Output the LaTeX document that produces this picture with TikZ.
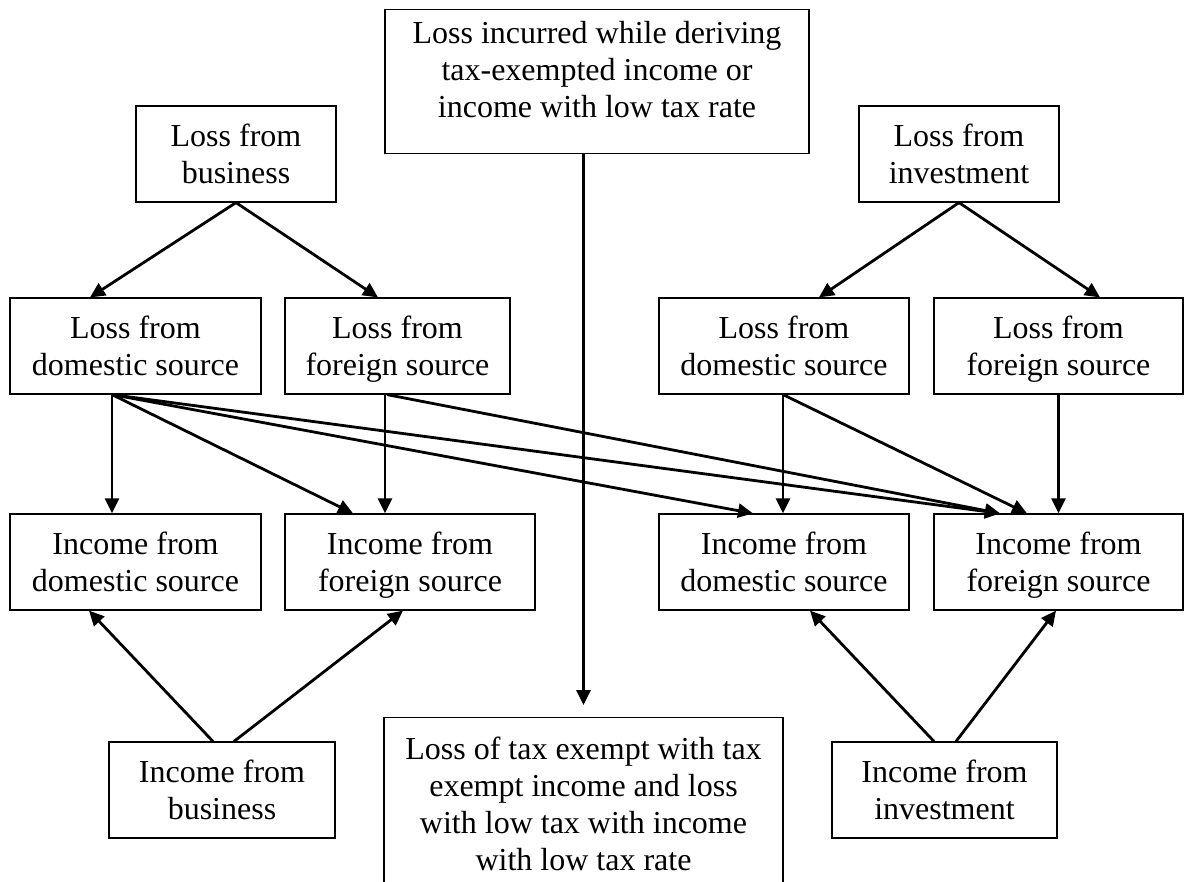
\documentclass[tikz,border=0pt]{standalone}
\usepackage{fontspec}
\setmainfont{Liberation Serif}
\usetikzlibrary{arrows.meta}
\newcommand\nodp[1]{\raisebox{0pt}[\height][0pt]{#1}}
\begin{document}
\begin{tikzpicture}[x=1pt,y=-1pt,
  box/.style={draw=black, line width=1.2pt, align=center, inner sep=0pt,
    font=\fontsize{32}{37}\selectfont, minimum height=96pt},
  arr/.style={line width=2.8pt, -{Triangle[length=15pt,width=14pt]}}]
\useasboundingbox (0,0) rectangle (1186,882);
\fill[white] (0,0) rectangle (1186,882);

\node[box, anchor=north, minimum width=424pt, minimum height=0pt, inner ysep=12pt] (top) at (597,9)
  {Loss incurred while deriving\\tax-exempted income or\\income with low tax rate\rule[-24pt]{0pt}{24pt}};
\node[box, minimum width=200pt] (lb) at (236,154) {Loss from\\business};
\node[box, minimum width=200pt] (li) at (959,154) {Loss from\\investment};

\node[box, minimum width=251pt] (ld1) at (135.5,346) {Loss from\\domestic source};
\node[box, minimum width=225pt] (lf1) at (397.5,346) {Loss from\\\nodp{foreign source}};
\node[box, minimum width=250pt] (ld2) at (784,346) {Loss from\\domestic source};
\node[box, minimum width=249pt] (lf2) at (1058.5,346) {Loss from\\\nodp{foreign source}};

\node[box, minimum width=251pt] (id1) at (135.5,562) {Income from\\domestic source};
\node[box, minimum width=250pt] (if1) at (410,562) {Income from\\\nodp{foreign source}};
\node[box, minimum width=250pt] (id2) at (784,562) {Income from\\domestic source};
\node[box, minimum width=249pt] (if2) at (1058.5,562) {Income from\\\nodp{foreign source}};

\node[box, minimum width=226pt] (ib) at (222,790) {Income from\\business};
\node[box, minimum width=225pt] (ii) at (944.5,790) {Income from\\investment};
\node[box, anchor=north, minimum width=399pt, minimum height=0pt, inner ysep=19pt] (bot) at (583.5,717)
  {Loss of tax exempt with tax\\exempt income and loss\\with low tax with income\\with low tax rate};

% top row to second row
\draw[arr] (lb.south) -- ([xshift=-45.5pt]ld1.north);
\draw[arr] (lb.south) -- ([xshift=-19.5pt]lf1.north);
\draw[arr] (li.south) -- ([xshift=35pt]ld2.north);
\draw[arr] (li.south) -- ([xshift=41.5pt]lf2.north);

% second row to income row
\draw[arr] ([xshift=-23.5pt]ld1.south) -- ([xshift=-23.5pt]id1.north);
\draw[arr] ([xshift=-23.5pt]ld1.south) -- ([xshift=-57pt]if1.north);
\draw[arr] ([xshift=-23.5pt]ld1.south) -- ([xshift=-31pt]id2.north);
\draw[arr] ([xshift=-23.5pt]ld1.south) -- ([xshift=-58.5pt]if2.north);
\draw[arr] ([xshift=-12.5pt]lf1.south) -- ([xshift=-25pt]if1.north);
\draw[arr] ([xshift=-10.5pt]lf1.south) -- ([xshift=-58.5pt]if2.north);
\draw[arr] ([xshift=-1pt]ld2.south) -- ([xshift=-1pt]id2.north);
\draw[arr] ([xshift=-1pt]ld2.south) -- ([xshift=-31.5pt]if2.north);
\draw[arr] (lf2.south) -- (if2.north);

% bottom row up to income row
\draw[arr] ([xshift=-9pt]ib.north) -- ([xshift=-46.5pt]id1.south);
\draw[arr] ([xshift=12pt]ib.north) -- ([xshift=-7pt]if1.south);
\draw[arr] ([xshift=-10.5pt]ii.north) -- ([xshift=26pt]id2.south);
\draw[arr] ([xshift=11.5pt]ii.north) -- ([xshift=-2.5pt]if2.south);

% central
\draw[arr] (top.south -| bot.north) -- ([yshift=12pt]bot.north);
\end{tikzpicture}
\end{document}
